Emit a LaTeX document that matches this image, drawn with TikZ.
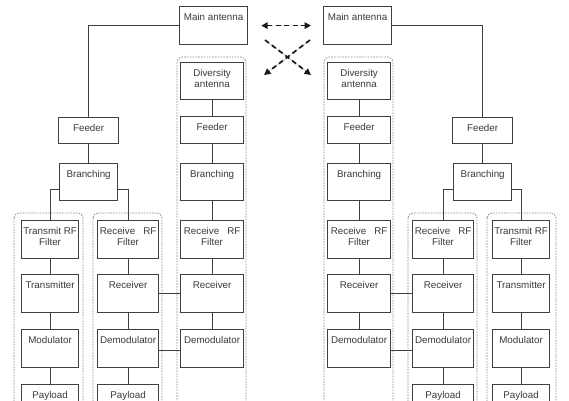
\documentclass[tikz,border=0pt]{standalone}
\usepackage{fontspec}
\setmainfont{Liberation Sans}
\usetikzlibrary{arrows.meta,calc}
\definecolor{ln}{HTML}{404040}
\definecolor{tx}{HTML}{3A3A3A}
\definecolor{dt}{HTML}{8C8C8C}
\newcommand\bxt[3]{\parbox[c][#2pt][t]{#1pt}{\centering\vspace*{6.3pt}\strut#3\par}}
\tikzset{
  box/.style={draw=ln, line width=1.2pt, inner sep=0pt, anchor=north west, text=tx,
    font=\fontsize{9.8}{11}\selectfont},
  conn/.style={draw=ln, line width=1.1pt},
  cont/.style={draw=dt, line width=0.75pt, dash pattern=on 1.6pt off 1.2pt, rounded corners=5pt},
  darr/.style={draw=black!90, fill=black!90, line width=1.7pt, dash pattern=on 5pt off 3.5pt},
  tip/.style={arrows={-{Triangle[length=6.5pt,width=6.5pt]}}},
  tips/.style={arrows={{Triangle[length=6.5pt,width=6.5pt]}-{Triangle[length=6.5pt,width=6.5pt]}}}
}
\begin{document}
\begin{tikzpicture}[x=1pt,y=-1pt]
\clip (0,0) rectangle (569,400);
\fill[white] (0,0) rectangle (569,400);
% containers
\draw[cont] (14,213) rectangle (83,410);
\draw[cont] (93,213) rectangle (162,410);
\draw[cont] (177,57) rectangle (246,410);
\draw[cont] (487,213) rectangle (556,410);
\draw[cont] (408,213) rectangle (477,410);
\draw[cont] (324,57) rectangle (393,410);
% left side boxes
\node[box] (mainL) at (179,6) {\bxt{68}{38}{Main antenna}};
\node[box] (divaL) at (180,62) {\bxt{63}{37}{Diversity\\antenna}};
\node[box] (feedL) at (58,117) {\bxt{60}{26}{Feeder}};
\node[box] (divfL) at (180,116) {\bxt{63}{27}{Feeder}};
\node[box] (brL) at (59,163) {\bxt{58}{37}{Branching}};
\node[box] (divbL) at (180,163) {\bxt{63}{37}{Branching}};
\node[box] (txfL) at (21,220) {\bxt{57}{38}{Transmit RF\\Filter}};
\node[box] (txL) at (21,274) {\bxt{57}{38}{Transmitter}};
\node[box] (modL) at (21,329) {\bxt{57}{38}{Modulator}};
\node[box] (payL1) at (21,384) {\bxt{57}{30}{Payload}};
\node[box] (rxfL) at (97,220) {\bxt{61}{38}{Receive\hspace{8pt}RF\\Filter}};
\node[box] (rxL) at (97,274) {\bxt{61}{38}{Receiver}};
\node[box] (demL) at (97,329) {\bxt{61}{38}{Demodulator}};
\node[box] (payL2) at (97,384) {\bxt{61}{30}{Payload}};
\node[box] (divrfL) at (180,220) {\bxt{63}{38}{Receive\hspace{8pt}RF\\Filter}};
\node[box] (divrxL) at (180,274) {\bxt{63}{38}{Receiver}};
\node[box] (divdmL) at (180,329) {\bxt{63}{38}{Demodulator}};
% right side boxes
\node[box] (mainR) at (323,6) {\bxt{68}{38}{Main antenna}};
\node[box] (divaR) at (327,62) {\bxt{63}{37}{Diversity\\antenna}};
\node[box] (feedR) at (452,117) {\bxt{60}{26}{Feeder}};
\node[box] (divfR) at (327,116) {\bxt{63}{27}{Feeder}};
\node[box] (brR) at (453,163) {\bxt{58}{37}{Branching}};
\node[box] (divbR) at (327,163) {\bxt{63}{37}{Branching}};
\node[box] (txfR) at (492,220) {\bxt{57}{38}{Transmit RF\\Filter}};
\node[box] (txR) at (492,274) {\bxt{57}{38}{Transmitter}};
\node[box] (modR) at (492,329) {\bxt{57}{38}{Modulator}};
\node[box] (payR1) at (492,384) {\bxt{57}{30}{Payload}};
\node[box] (rxfR) at (412,220) {\bxt{61}{38}{Receive\hspace{8pt}RF\\Filter}};
\node[box] (rxR) at (412,274) {\bxt{61}{38}{Receiver}};
\node[box] (demR) at (412,329) {\bxt{61}{38}{Demodulator}};
\node[box] (payR2) at (412,384) {\bxt{61}{30}{Payload}};
\node[box] (divrfR) at (327,220) {\bxt{63}{38}{Receive\hspace{8pt}RF\\Filter}};
\node[box] (divrxR) at (327,274) {\bxt{63}{38}{Receiver}};
\node[box] (divdmR) at (327,329) {\bxt{63}{38}{Demodulator}};
% left connectors
\draw[conn] (mainL.west) -| (feedL.north);
\draw[conn] (feedL.south) -- (brL.north);
\draw[conn] ([yshift=-7.5pt]brL.west) -| (txfL.north);
\draw[conn] ([yshift=-7.5pt]brL.east) -| (rxfL.north);
\draw[conn] (txfL.south) -- (txL.north);
\draw[conn] (txL.south) -- (modL.north);
\draw[conn] (modL.south) -- (payL1.north);
\draw[conn] (rxfL.south) -- (rxL.north);
\draw[conn] (rxL.south) -- (demL.north);
\draw[conn] (demL.south) -- (payL2.north);
\draw[conn] (divaL.south) -- (divfL.north);
\draw[conn] (divfL.south) -- (divbL.north);
\draw[conn] (divbL.south) -- (divrfL.north);
\draw[conn] (divrfL.south) -- (divrxL.north);
\draw[conn] (divrxL.south) -- (divdmL.north);
\draw[conn] (rxL.east) -- (divrxL.west);
\draw[conn] ([yshift=-1.5pt]demL.east) -- ([yshift=-1.5pt]divdmL.west);
% right connectors
\draw[conn] (mainR.east) -| (feedR.north);
\draw[conn] (feedR.south) -- (brR.north);
\draw[conn] ([yshift=-7.5pt]brR.east) -| (txfR.north);
\draw[conn] ([yshift=-7.5pt]brR.west) -| (rxfR.north);
\draw[conn] (txfR.south) -- (txR.north);
\draw[conn] (txR.south) -- (modR.north);
\draw[conn] (modR.south) -- (payR1.north);
\draw[conn] (rxfR.south) -- (rxR.north);
\draw[conn] (rxR.south) -- (demR.north);
\draw[conn] (demR.south) -- (payR2.north);
\draw[conn] (divaR.south) -- (divfR.north);
\draw[conn] (divfR.south) -- (divbR.north);
\draw[conn] (divbR.south) -- (divrfR.north);
\draw[conn] (divrfR.south) -- (divrxR.north);
\draw[conn] (divrxR.south) -- (divdmR.north);
\draw[conn] (divrxR.east) -- (rxR.west);
\draw[conn] ([yshift=-1.5pt]divdmR.east) -- ([yshift=-1.5pt]demR.west);
% dashed arrows
\coordinate (c1) at (265,40);
\coordinate (c2) at (311,75);
\coordinate (c3) at (310,40);
\coordinate (c4) at (264,75);
\draw[darr, tips, shorten <=13pt, shorten >=12pt] (mainL.east) -- (mainR.west);
\draw[darr, tip] (c1) -- (c2);
\draw[darr, tip] (c3) -- (c4);
\end{tikzpicture}
\end{document}
